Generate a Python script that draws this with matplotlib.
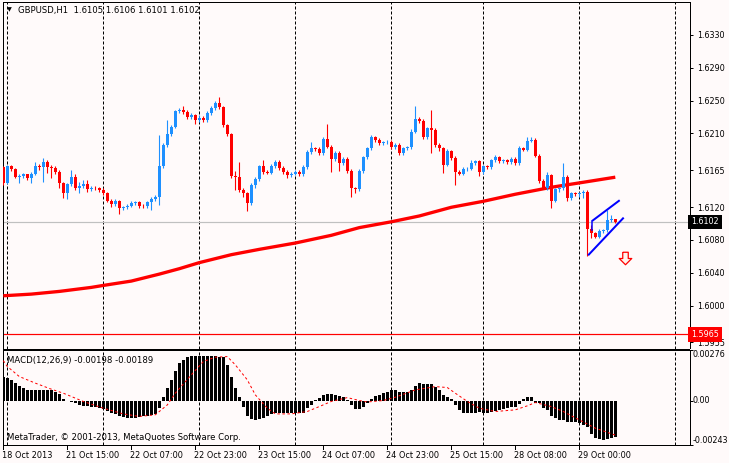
import matplotlib
matplotlib.use("Agg")
import matplotlib.pyplot as plt
import numpy as np
from matplotlib.transforms import blended_transform_factory

# ---------------- data ----------------
symbol_title = "GBPUSD,H1  1.6105 1.6106 1.6101 1.6102"
macd_title = "MACD(12,26,9) -0.00198 -0.00189"
copyright_text = "MetaTrader, \u00a9 2001-2013, MetaQuotes Software Corp."

first_open = 1.6169
close = [1.6150, 1.6170, 1.6166, 1.6157, 1.6158, 1.6160, 1.6155, 1.6161, 1.6170, 1.6169,
         1.6175, 1.6169, 1.6168, 1.6163, 1.6149, 1.6137, 1.6148, 1.6157, 1.6143, 1.6146,
         1.6148, 1.6142, 1.6144, 1.6143, 1.6141, 1.6137, 1.6128, 1.6124, 1.6127, 1.6119,
         1.6120, 1.6122, 1.6125, 1.6126, 1.6122, 1.6121, 1.6126, 1.6130, 1.6133, 1.6170,
         1.6196, 1.6209, 1.6218, 1.6237, 1.6238, 1.6236, 1.6230, 1.6232, 1.6226, 1.6229,
         1.6226, 1.6235, 1.6241, 1.6247, 1.6242, 1.6220, 1.6209, 1.6158, 1.6157, 1.6141,
         1.6137, 1.6125, 1.6147, 1.6154, 1.6170, 1.6163, 1.6162, 1.6170, 1.6175, 1.6168,
         1.6163, 1.6159, 1.6161, 1.6163, 1.6160, 1.6169, 1.6187, 1.6192, 1.6191, 1.6186,
         1.6203, 1.6194, 1.6179, 1.6186, 1.6174, 1.6179, 1.6164, 1.6143, 1.6142, 1.6164,
         1.6181, 1.6192, 1.6205, 1.6202, 1.6198, 1.6199, 1.6200, 1.6193, 1.6196, 1.6186,
         1.6192, 1.6193, 1.6212, 1.6227, 1.6225, 1.6205, 1.6216, 1.6214, 1.6196, 1.6192,
         1.6172, 1.6188, 1.6180, 1.6163, 1.6161, 1.6166, 1.6167, 1.6174, 1.6176, 1.6163,
         1.6170, 1.6169, 1.6177, 1.6181, 1.6176, 1.6177, 1.6175, 1.6179, 1.6174, 1.6192,
         1.6190, 1.6201, 1.6202, 1.6183, 1.6152, 1.6144, 1.6159, 1.6128, 1.6142, 1.6143,
         1.6157, 1.6131, 1.6137, 1.6136, 1.6137, 1.6138, 1.6093, 1.6088, 1.6084, 1.6091,
         1.6092, 1.6104, 1.6105, 1.6102]

# wick lengths in pips beyond the body
upper_wick = [1, 2, 1, 2, 2, 2, 1, 2, 5, 3,
              5, 2, 2, 2, 2, 2, 2, 8, 4, 5,
              5, 5, 2, 2, 2, 2, 2, 2, 3, 2,
              2, 2, 2, 2, 2, 2, 2, 3, 2, 38,
              2, 17, 2, 2, 3, 6, 2, 3, 2, 3,
              2, 2, 2, 3, 7, 2, 2, 2, 6, 18,
              2, 2, 2, 3, 2, 8, 2, 3, 2, 2,
              2, 2, 2, 2, 2, 2, 3, 7, 2, 2,
              2, 18, 2, 2, 2, 2, 2, 2, 2, 2,
              2, 2, 3, 2, 2, 2, 2, 2, 2, 2,
              2, 2, 3, 17, 3, 2, 2, 22, 3, 2,
              2, 3, 2, 2, 2, 3, 2, 3, 2, 2,
              2, 2, 2, 3, 2, 2, 2, 2, 2, 3,
              2, 5, 3, 2, 2, 2, 4, 2, 2, 2,
              17, 2, 2, 2, 2, 3, 3, 5, 2, 2,
              2, 12, 5, 1]
lower_wick = [3, 2, 2, 2, 8, 2, 2, 6, 2, 4,
              18, 7, 12, 2, 6, 6, 7, 2, 2, 6,
              2, 3, 2, 2, 2, 2, 2, 4, 2, 7,
              2, 2, 2, 2, 3, 2, 2, 9, 3, 10,
              2, 2, 2, 2, 2, 2, 3, 2, 4, 2,
              2, 2, 2, 2, 2, 2, 2, 2, 16, 2,
              4, 10, 2, 4, 2, 3, 2, 2, 2, 3,
              2, 3, 2, 2, 2, 2, 2, 2, 2, 2,
              2, 2, 16, 3, 10, 2, 2, 10, 5, 2,
              2, 2, 2, 2, 2, 2, 2, 2, 2, 2,
              2, 2, 2, 2, 2, 2, 2, 28, 2, 3,
              10, 2, 3, 16, 2, 2, 2, 2, 2, 5,
              2, 2, 2, 2, 2, 2, 2, 2, 2, 3,
              2, 2, 2, 2, 3, 2, 3, 9, 2, 3,
              2, 3, 2, 2, 3, 6, 32, 5, 2, 2,
              2, 2, 2, 1]

ma_bars = [0, 7, 14, 22, 25, 32, 39, 44, 49, 57, 64, 73, 82, 89, 97, 104, 112, 120, 128, 137, 145, 153]
ma_vals = [1.60120, 1.60140, 1.60173, 1.60222, 1.60246, 1.60299, 1.60384, 1.60450, 1.60524,
           1.60621, 1.60686, 1.60763, 1.60857, 1.60951, 1.61022, 1.61093, 1.61199, 1.61272,
           1.61358, 1.61443, 1.61504, 1.61566]

macd_hist = [0.00127, 0.00122, 0.00113, 0.00098, 0.00080, 0.00067, 0.00058, 0.00055, 0.00055, 0.00055,
             0.00058, 0.00058, 0.00055, 0.00049, 0.00036, 0.00007, -0.00002, -0.00007, -0.00015, -0.00025,
             -0.00029, -0.00029, -0.00033, -0.00036, -0.00042, -0.00047, -0.00055, -0.00066, -0.00075, -0.00084,
             -0.00091, -0.00096, -0.00096, -0.00093, -0.00091, -0.00087, -0.00084, -0.00078, -0.00073, -0.00042,
             0.00018, 0.00067, 0.00113, 0.00164, 0.00204, 0.00222, 0.00240, 0.00244, 0.00244, 0.00244,
             0.00244, 0.00244, 0.00244, 0.00244, 0.00240, 0.00237, 0.00195, 0.00131, 0.00067, 0.00018,
             -0.00033, -0.00087, -0.00102, -0.00106, -0.00102, -0.00098, -0.00087, -0.00073, -0.00069, -0.00069,
             -0.00069, -0.00069, -0.00069, -0.00069, -0.00069, -0.00066, -0.00042, -0.00024, 0.00004, 0.00013,
             0.00031, 0.00036, 0.00036, 0.00031, 0.00022, 0.00018, 0.00004, -0.00024, -0.00047, -0.00047,
             -0.00033, -0.00011, 0.00007, 0.00022, 0.00031, 0.00040, 0.00049, 0.00055, 0.00055, 0.00046,
             0.00046, 0.00049, 0.00058, 0.00080, 0.00098, 0.00091, 0.00091, 0.00089, 0.00076, 0.00055,
             0.00031, 0.00018, 0.00007, -0.00024, -0.00051, -0.00066, -0.00069, -0.00069, -0.00066, -0.00060,
             -0.00066, -0.00066, -0.00060, -0.00055, -0.00051, -0.00047, -0.00042, -0.00036, -0.00033, -0.00018,
             0.00007, 0.00018, 0.00018, -0.00011, -0.00015, -0.00042, -0.00051, -0.00084, -0.00096, -0.00106,
             -0.00109, -0.00115, -0.00115, -0.00120, -0.00124, -0.00133, -0.00146, -0.00182, -0.00206, -0.00211,
             -0.00215, -0.00211, -0.00206, -0.00198]

signal_bars = [0, 1, 4, 8, 12, 15, 20, 25, 30, 34, 38, 41, 43, 47, 50, 53, 56, 58, 61, 63, 66, 68,
               72, 76, 79, 82, 86, 89, 91, 95, 98, 103, 108, 111, 113, 116, 119, 123, 128, 131,
               133, 137, 140, 144, 148, 153]
signal_vals = [0.00218, 0.00186, 0.00131, 0.00095, 0.00062, 0.00040, -0.00005, -0.00042, -0.00073,
               -0.00087, -0.00078, -0.00024, 0.00040, 0.00140, 0.00213, 0.00237, 0.00240, 0.00195,
               0.00113, 0.00031, -0.00042, -0.00073, -0.00073, -0.00060, -0.00033, -0.00005, 0.00016,
               0.00000, -0.00008, 0.00000, 0.00018, 0.00058, 0.00076, 0.00071, 0.00040, -0.00005,
               -0.00042, -0.00060, -0.00051, -0.00029, -0.00011, -0.00033, -0.00060, -0.00106,
               -0.00151, -0.00189]

channel_upper = ([147.2, 154.1], [1.61032, 1.61285])
channel_upper_stub = ([147.2, 147.2], [1.61032, 1.60920])
channel_lower = ([146.2, 155.1], [1.60613, 1.61073])
arrow_pos = (155.5, 1.60576)

bid_price = 1.6102
level_price = 1.5965
price_ticks = [1.6330, 1.6290, 1.6250, 1.6210, 1.6165, 1.6120, 1.6080, 1.6040, 1.6000, 1.5955]
macd_max, macd_min = 0.00276, -0.00243

grid_bars = [1, 25, 49, 73, 97, 120, 144, 168]
time_bars = [0, 16, 32, 48, 64, 80, 96, 112, 128, 144]
time_labels = ["18 Oct 2013", "21 Oct 15:00", "22 Oct 07:00", "22 Oct 23:00", "23 Oct 15:00",
               "24 Oct 07:00", "24 Oct 23:00", "25 Oct 15:00", "28 Oct 08:00", "29 Oct 00:00"]

# ---------------- style ----------------
BG = "#FFFAFA"
UP = "#1E90FF"
DOWN = "#FF0000"
FONT = "DejaVu Sans"
FS_TEXT = 6.1
FS_AXIS = 5.75
FS_TIME = 5.85
PX = 0.72  # one pixel in points

W, H = 729, 463
fig = plt.figure(figsize=(W / 100, H / 100), dpi=100, facecolor=BG)

x_left_px, x_right_px = 2.7, 689.5
bar_x0_px, bar_step_px = 3.3, 4.0
xmin = (x_left_px - bar_x0_px) / bar_step_px
xmax = (x_right_px - bar_x0_px) / bar_step_px

main_top_px, main_bot_px = 2.0, 348.5
macd_top_px, macd_bot_px = 350.0, 445.0


def rect(top, bot):
    return [x_left_px / W, 1 - bot / H, (x_right_px - x_left_px) / W, (bot - top) / H]


ax = fig.add_axes(rect(main_top_px, main_bot_px))
ax2 = fig.add_axes(rect(macd_top_px, macd_bot_px))
for a in (ax, ax2):
    a.set_facecolor(BG)
    a.set_xlim(xmin, xmax)
    for s in a.spines.values():
        s.set_color("black")
        s.set_linewidth(1.0 * PX)
    a.set_xticks([])

# price scale: 1.6330 at y=35 px, ~8200 px per unit
scale = 8200.0
ytop = 1.6330 + (35 - main_top_px) / scale
ybot = 1.6330 - (main_bot_px - 35) / scale
ax.set_ylim(ybot, ytop)

n = len(close)
xs = np.arange(n)
opens = [first_open] + close[:-1]

# grid lines
for a in (ax, ax2):
    for gb in grid_bars:
        a.axvline(gb, color="black", lw=PX, ls=(0, (3, 2)), zorder=1)

# bid and level lines
ax.axhline(bid_price, color="#C0C0C0", lw=1.2 * PX, zorder=2)
ax.axhline(level_price, color="#FF0000", lw=1.2 * PX, zorder=2)

# moving average
ax.plot(ma_bars, ma_vals, color="#FF0000", lw=3.3 * PX, solid_capstyle="butt", zorder=3)

# candles
pip = 0.0001
for i in range(n):
    o, c = opens[i], close[i]
    col = UP if c >= o else DOWN
    top = max(o, c)
    bot = min(o, c)
    hi = top + upper_wick[i] * pip
    lo = bot - lower_wick[i] * pip
    ax.vlines(i, lo, hi, color=col, lw=1.1 * PX, zorder=4)
    h = max(top - bot, 0.00007)
    ax.bar(i, h, bottom=bot - (h - (top - bot)) / 2, width=0.75, color=col, lw=0, zorder=5)

# channel
ax.plot(*channel_upper, color="#0000FF", lw=2 * PX, zorder=6, solid_capstyle="butt")
ax.plot(*channel_upper_stub, color="#0000FF", lw=1.5 * PX, zorder=6)
ax.plot(*channel_lower, color="#0000FF", lw=2 * PX, zorder=6, solid_capstyle="butt")

# down arrow (hollow)
arrow_verts = [(-0.22, 0.5), (0.22, 0.5), (0.22, 0.0), (0.5, 0.0), (0.0, -0.5),
               (-0.5, 0.0), (-0.22, 0.0), (-0.22, 0.5)]
ax.plot([arrow_pos[0]], [arrow_pos[1]], marker=arrow_verts, markersize=9,
        markerfacecolor="#FFF5EE", markeredgecolor="#FF0000", markeredgewidth=0.9, zorder=7)

# right price axis
ax.yaxis.tick_right()
ax.set_yticks(price_ticks)
ax.set_yticklabels([f"{p:.4f}" for p in price_ticks])
ax.tick_params(axis="y", direction="out", length=3 * PX, width=PX, pad=3,
               labelsize=FS_AXIS, colors="black")
for lab in ax.get_yticklabels():
    lab.set_fontfamily(FONT)

# boxed labels on the price axis
trp = blended_transform_factory(ax.transAxes, ax.transData)
ax.text(1.0025, bid_price, f"{bid_price:.4f}", transform=trp,
        ha="left", va="center", fontsize=FS_AXIS, family=FONT, color="white", zorder=10, clip_on=False,
        bbox=dict(boxstyle="square,pad=0.35", fc="black", ec="black", lw=0))
ax.text(1.0025, level_price, f"{level_price:.4f}", transform=trp,
        ha="left", va="center", fontsize=FS_AXIS, family=FONT, color="white", zorder=10, clip_on=False,
        bbox=dict(boxstyle="square,pad=0.35", fc="#FF0000", ec="#FF0000", lw=0))

# MACD window
ax2.set_ylim(macd_min, macd_max)
ax2.bar(xs, macd_hist, width=0.7, color="black", lw=0, zorder=3)
ax2.plot(signal_bars, signal_vals, color="#FF0000", lw=PX, ls=(0, (2.5, 2.5)), zorder=4)
ax2.yaxis.tick_right()
ax2.set_yticks([macd_max, 0.0, macd_min])
ax2.set_yticklabels([])
ax2.tick_params(axis="y", direction="out", length=3 * PX, width=PX)
tr2 = blended_transform_factory(ax2.transAxes, ax2.transData)
ax2.text(1.0045, macd_max, f"{macd_max:.5f}", transform=tr2, ha="left", va="top",
         fontsize=FS_AXIS, family=FONT, clip_on=False)
ax2.text(1.0045, 0.0, "0.00", transform=tr2, ha="left", va="center",
         fontsize=FS_AXIS, family=FONT, clip_on=False)
ax2.text(1.0045, macd_min, f"{macd_min:.5f}", transform=tr2, ha="left", va="bottom",
         fontsize=FS_AXIS, family=FONT, clip_on=False)

# time axis ticks and labels
trx = blended_transform_factory(ax2.transData, fig.transFigure)
for tb, tl in zip(time_bars, time_labels):
    ax2.plot([tb, tb], [1 - 445.5 / H, 1 - 448.5 / H], transform=trx, color="black",
             lw=PX, clip_on=False)
    ax2.text(tb - 0.35, 1 - 455.5 / H, tl, transform=trx, ha="left", va="center",
             fontsize=FS_TIME, family=FONT, clip_on=False)

# texts in windows
fig.text(18 / W, 1 - 10.5 / H, symbol_title, ha="left", va="center", fontsize=FS_TEXT, family=FONT)
fig.text(9 / W, 1 - 10 / H, "\u25bc", ha="center", va="center", fontsize=4.5, family=FONT)
fig.text(7 / W, 1 - 360 / H, macd_title, ha="left", va="center", fontsize=FS_TEXT, family=FONT)
fig.text(7 / W, 1 - 438 / H, copyright_text, ha="left", va="center", fontsize=FS_TEXT, family=FONT)

fig.savefig("out.png", dpi=100, facecolor=BG)
